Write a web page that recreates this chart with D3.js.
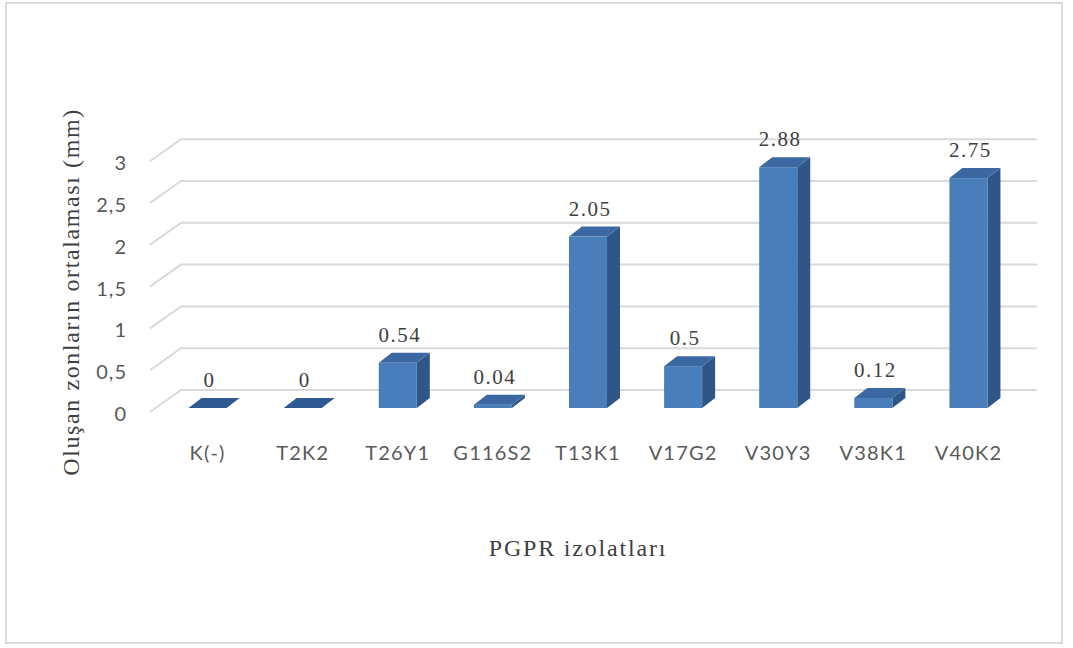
<!DOCTYPE html>
<html>
<head>
<meta charset="utf-8">
<script src="https://cdn.jsdelivr.net/npm/d3@7/dist/d3.min.js"></script>
<style>
  html, body { margin: 0; padding: 0; background: #ffffff; }
  svg { display: block; }
</style>
</head>
<body>
<svg id="chart" width="1073" height="648"></svg>
<script>
// Mean inhibition zone per PGPR isolate (mm)
const categories = ["K(-)", "T2K2", "T26Y1", "G116S2", "T13K1", "V17G2", "V30Y3", "V38K1", "V40K2"];
const values = [0, 0, 0.54, 0.04, 2.05, 0.5, 2.88, 0.12, 2.75];
const valueLabels = ["0", "0", "0.54", "0.04", "2.05", "0.5", "2.88", "0.12", "2.75"];
const yTicks = [0, 0.5, 1, 1.5, 2, 2.5, 3];
const yTickLabels = ["0", "0,5", "1", "1,5", "2", "2,5", "3"];
const yTitle = "Oluşan zonların ortalaması (mm)";
const xTitle = "PGPR izolatları";

const svg = d3.select("#chart");
const serif = "'Liberation Serif', 'Times New Roman', serif";
const sans = "Lato, 'Open Sans', sans-serif";

// outer chart frame
svg.append("rect")
  .attr("x", 6).attr("y", 3).attr("width", 1056).attr("height", 640)
  .attr("fill", "#ffffff").attr("stroke", "#d9d9d9").attr("stroke-width", 2);

// front plane of the 3D plot area
const plotLeft = 150, plotRight = 1006;
const floorY = 412;
const depth = { dx: 31, dy: -22 };   // wall depth offset
const x = d3.scaleBand().domain(categories).range([plotLeft, plotRight])
  .paddingInner(0.6).paddingOuter(0.3);
const y = d3.scaleLinear().domain([0, 3]).range([floorY, floorY - 3 * 83.6]);

// gridlines: diagonal side-wall stub + back-wall horizontal line
const grid = svg.append("g").attr("fill", "none").attr("stroke", "#d9d9d9").attr("stroke-width", 2);
yTicks.forEach(t => {
  const yf = y(t);
  grid.append("path")
    .attr("d", `M${plotLeft},${yf}L${plotLeft + depth.dx},${yf + depth.dy}L${plotRight + depth.dx},${yf + depth.dy}`);
});

// y tick labels
svg.append("g").selectAll("text").data(yTicks).join("text")
  .attr("x", 127).attr("y", d => y(d) + 9)
  .attr("text-anchor", "end")
  .attr("font-family", sans).attr("font-size", 20)
  .attr("letter-spacing", 1)
  .attr("fill", "#595959")
  .text((d, i) => yTickLabels[i]);

// 3D columns
const bar = { shiftX: 10, shiftY: -4, dx: 13, dy: -10 };
const colFront = "#4a7ebb", colSide = "#2f5687", colTop = "#3b68a3";
const bars = svg.append("g");
categories.forEach((c, i) => {
  const x0 = x(c) + bar.shiftX, x1 = x0 + x.bandwidth();
  const yb = y(0) + bar.shiftY;
  const yt = y(values[i]) + bar.shiftY;
  const g = bars.append("g");
  // right side face
  g.append("path")
    .attr("d", `M${x1},${yb}L${x1 + bar.dx},${yb + bar.dy}L${x1 + bar.dx},${yt + bar.dy}L${x1},${yt}Z`)
    .attr("fill", colSide);
  // front face
  g.append("rect")
    .attr("x", x0).attr("y", yt).attr("width", x1 - x0).attr("height", yb - yt)
    .attr("fill", colFront);
  // top face
  g.append("path")
    .attr("d", `M${x0},${yt}L${x0 + bar.dx},${yt + bar.dy}L${x1 + bar.dx},${yt + bar.dy}L${x1},${yt}Z`)
    .attr("fill", values[i] === 0 ? "#2f5a91" : colTop);
});

// value labels
svg.append("g").selectAll("text").data(values).join("text")
  .attr("x", (d, i) => x(categories[i]) + bar.shiftX + x.bandwidth() / 2 + 2)
  .attr("y", d => y(d) + bar.shiftY - 21)
  .attr("text-anchor", "middle")
  .attr("font-family", serif).attr("font-size", 21)
  .attr("letter-spacing", 1.5)
  .attr("fill", "#404040")
  .text((d, i) => valueLabels[i]);

// category labels
svg.append("g").selectAll("text").data(categories).join("text")
  .attr("x", d => x(d) + bar.shiftX + x.bandwidth() / 2)
  .attr("y", 460)
  .attr("text-anchor", "middle")
  .attr("font-family", sans).attr("font-size", 20)
  .attr("letter-spacing", 1.2)
  .attr("fill", "#595959")
  .text(d => d);

// axis titles
svg.append("text")
  .attr("x", 578).attr("y", 556)
  .attr("text-anchor", "middle")
  .attr("font-family", serif).attr("font-size", 24)
  .attr("letter-spacing", 1.8)
  .attr("fill", "#404040")
  .text(xTitle);

svg.append("text")
  .attr("transform", "translate(79,292) rotate(-90)")
  .attr("text-anchor", "middle")
  .attr("font-family", serif).attr("font-size", 24)
  .attr("letter-spacing", 1.6)
  .attr("fill", "#404040")
  .text(yTitle);
</script>
</body>
</html>
